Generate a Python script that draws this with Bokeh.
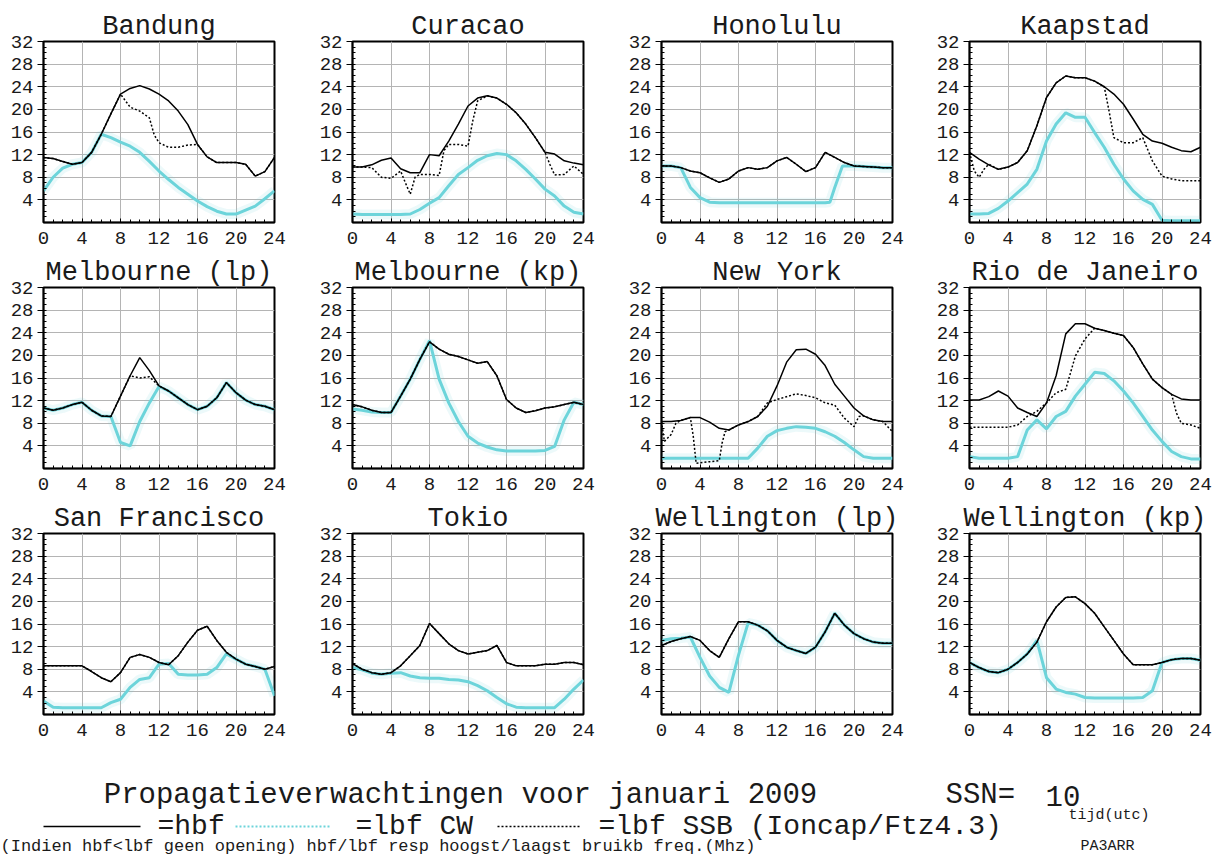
from bokeh.plotting import figure
from bokeh.layouts import row, column
from bokeh.models import Range1d, FixedTicker
from bokeh.embed import file_html
from bokeh.resources import INLINE
from bokeh.core.properties import value

HOURS = list(range(25))

# ---------------- data (MHz per UTC hour) ----------------
BANDUNG_HBF = [11.5, 11.3, 10.8, 10.3, 10.6, 12.4, 15.6, 19.2, 22.7, 23.7, 24.2, 23.6, 22.7, 21.5, 19.7, 17.3, 13.8, 11.6, 10.6, 10.6, 10.6, 10.3, 8.2, 9.0, 11.5]
BANDUNG_CW = [5.6, 8.0, 9.6, 10.3, 10.6, 12.4, 15.6, 15.0, 14.2, 13.5, 12.4, 10.8, 9.1, 7.6, 6.2, 5.0, 3.8, 2.8, 2.0, 1.5, 1.5, 2.2, 2.9, 4.2, 5.6]
BANDUNG_SSB_X = [0, 1, 2, 3, 4, 5, 6, 7, 8, 9, 10, 11, 11.5, 12, 13, 14, 15, 16, 17, 18, 19, 20, 21, 22, 23, 24]
BANDUNG_SSB = [11.5, 11.3, 10.8, 10.3, 10.6, 12.4, 15.6, 19.2, 22.7, 20.4, 19.7, 18.5, 15.5, 14.1, 13.3, 13.3, 13.7, 13.8, 11.6, 10.6, 10.6, 10.6, 10.3, 8.2, 9.0, 11.5]

CURACAO_HBF = [9.8, 9.8, 10.2, 11.0, 11.4, 9.5, 8.8, 8.8, 12.0, 11.8, 14.4, 17.4, 20.6, 22.0, 22.4, 22.0, 20.9, 19.4, 17.4, 15.0, 12.4, 12.1, 10.9, 10.5, 10.2]
CURACAO_CW = [1.5, 1.4, 1.4, 1.4, 1.4, 1.4, 1.5, 2.3, 3.4, 4.4, 6.5, 8.5, 9.7, 11.0, 11.8, 12.2, 12.0, 10.9, 9.4, 7.7, 5.9, 4.7, 2.9, 1.8, 1.5]
CURACAO_SSB_X = [0, 1, 2, 3, 4, 5, 5.5, 6, 6.5, 7, 8, 9, 9.5, 10, 11, 12, 12.5, 13, 14, 15, 16, 17, 18, 19, 20, 20.5, 21, 22, 23, 24]
CURACAO_SSB = [9.8, 9.8, 9.7, 8.0, 7.8, 9.1, 7.0, 5.0, 8.0, 8.5, 8.5, 8.3, 12.7, 13.8, 13.8, 13.5, 18.0, 21.5, 22.4, 22.0, 20.9, 19.4, 17.4, 15.0, 12.4, 10.3, 8.4, 8.5, 10.0, 8.5]

HONOLULU_HBF = [10.0, 10.0, 9.7, 9.1, 8.8, 7.9, 7.1, 7.7, 9.1, 9.7, 9.4, 9.7, 10.9, 11.5, 10.3, 9.0, 9.7, 12.4, 11.5, 10.6, 10.0, 9.9, 9.8, 9.7, 9.7]
HONOLULU_CW_X = [0, 1, 2, 3, 4, 5, 6, 7, 8, 9, 10, 11, 12, 13, 14, 15, 16, 17, 17.5, 18, 18.8, 20, 21, 22, 23, 24]
HONOLULU_CW = [10.0, 10.0, 9.7, 6.2, 4.4, 3.6, 3.5, 3.5, 3.5, 3.5, 3.5, 3.5, 3.5, 3.5, 3.5, 3.5, 3.5, 3.5, 3.6, 6.2, 10.0, 10.0, 9.9, 9.8, 9.7, 9.7]

KAAPSTAD_HBF = [12.4, 11.2, 10.2, 9.4, 9.8, 10.6, 12.7, 17.1, 22.1, 24.7, 25.9, 25.6, 25.6, 25.0, 24.0, 22.7, 20.9, 18.3, 15.6, 14.4, 14.0, 13.3, 12.7, 12.5, 13.3]
KAAPSTAD_CW = [1.5, 1.5, 1.6, 2.5, 3.8, 5.3, 6.8, 9.4, 14.4, 17.4, 19.4, 18.6, 18.6, 15.9, 13.3, 10.3, 7.7, 5.6, 4.1, 3.2, 0.4, 0.3, 0.3, 0.3, 0.3]
KAAPSTAD_SSB_X = [0, 0.5, 1, 1.5, 2, 3, 4, 5, 6, 7, 8, 9, 10, 11, 12, 13, 14, 14.5, 15, 16, 17, 18, 19, 20, 21, 22, 23, 24]
KAAPSTAD_SSB = [12.4, 9.1, 8.0, 9.4, 10.3, 9.4, 9.8, 10.6, 12.7, 17.1, 22.1, 24.7, 25.9, 25.6, 25.6, 25.0, 24.0, 19.7, 15.0, 14.1, 14.1, 15.0, 10.9, 8.2, 7.7, 7.4, 7.4, 7.4]

MELB_LP_HBF = [10.7, 10.3, 10.7, 11.3, 11.7, 10.3, 9.3, 9.2, 12.8, 16.4, 19.6, 17.3, 14.6, 13.7, 12.5, 11.3, 10.4, 11.0, 12.5, 15.2, 13.4, 12.1, 11.3, 11.0, 10.4]
MELB_LP_CW = [10.7, 10.3, 10.7, 11.3, 11.7, 10.3, 9.3, 9.2, 4.6, 4.0, 8.3, 11.6, 14.5, 13.7, 12.5, 11.3, 10.4, 11.0, 12.5, 15.2, 13.4, 12.1, 11.3, 11.0, 10.4]
MELB_LP_SSB = [10.7, 10.3, 10.7, 11.3, 11.7, 10.3, 9.3, 9.2, 12.8, 16.4, 16.0, 16.2, 14.6, 13.7, 12.5, 11.3, 10.4, 11.0, 12.5, 15.2, 13.4, 12.1, 11.3, 11.0, 10.4]

MELB_KP_HBF = [11.3, 10.9, 10.3, 9.9, 9.9, 12.8, 15.8, 19.3, 22.4, 21.1, 20.2, 19.8, 19.2, 18.6, 18.9, 16.4, 12.2, 10.7, 9.9, 10.2, 10.7, 10.9, 11.3, 11.7, 11.3]
MELB_KP_CW = [10.5, 10.3, 10.0, 9.9, 9.9, 12.8, 15.8, 19.3, 22.6, 15.8, 11.6, 8.3, 5.7, 4.5, 3.8, 3.3, 3.1, 3.1, 3.1, 3.1, 3.2, 3.9, 8.6, 11.7, 11.3]

NEWYORK_HBF = [8.3, 8.3, 8.5, 9.0, 9.0, 8.2, 7.1, 6.8, 7.7, 8.3, 9.2, 11.0, 14.6, 18.8, 21.0, 21.1, 20.2, 18.2, 14.9, 12.8, 10.7, 9.3, 8.6, 8.3, 8.3]
NEWYORK_CW = [1.8, 1.8, 1.8, 1.8, 1.8, 1.8, 1.8, 1.8, 1.8, 1.8, 3.6, 5.7, 6.7, 7.1, 7.4, 7.3, 7.1, 6.5, 5.7, 4.6, 3.3, 2.1, 1.8, 1.8, 1.8]
NEWYORK_SSB_X = [0, 0.3, 1, 1.5, 2, 3, 3.3, 3.6, 4, 5, 6, 6.3, 6.6, 7, 8, 9, 10, 11, 12, 13, 14, 15, 16, 17, 18, 19, 20, 20.5, 21, 22, 23, 24]
NEWYORK_SSB = [8.3, 4.8, 6.0, 8.0, 8.5, 9.0, 5.7, 0.9, 1.0, 1.2, 1.4, 4.5, 6.5, 6.8, 7.7, 8.3, 9.2, 11.6, 12.2, 12.7, 13.2, 12.9, 12.5, 11.6, 11.2, 8.9, 7.4, 9.2, 9.3, 8.6, 8.3, 6.5]

RIO_HBF = [12.1, 12.1, 12.7, 13.7, 12.8, 10.7, 9.9, 9.2, 11.6, 16.4, 23.8, 25.6, 25.6, 24.8, 24.4, 23.9, 23.5, 21.4, 18.5, 15.8, 14.3, 13.1, 12.3, 12.1, 12.1]
RIO_CW = [2.1, 1.8, 1.8, 1.8, 1.8, 2.1, 6.8, 8.6, 7.0, 9.2, 10.1, 12.8, 14.9, 17.0, 16.8, 15.5, 13.7, 11.6, 9.2, 6.8, 4.8, 3.0, 2.1, 1.7, 1.7]
RIO_SSB_X = [0, 1, 2, 3, 4, 5, 6, 7, 8, 9, 10, 11, 12, 13, 14, 15, 16, 17, 18, 19, 20, 21, 21.5, 22, 23, 24]
RIO_SSB = [7.3, 7.3, 7.3, 7.3, 7.3, 7.7, 9.2, 10.1, 11.6, 13.4, 14.0, 19.9, 22.9, 24.8, 24.4, 23.9, 23.5, 21.4, 18.5, 15.8, 14.3, 13.1, 9.8, 8.0, 7.7, 7.1]

SANFRAN_HBF = [8.6, 8.6, 8.6, 8.6, 8.6, 7.6, 6.5, 5.8, 7.4, 10.1, 10.6, 10.1, 9.2, 8.8, 10.4, 12.8, 14.9, 15.6, 13.1, 11.0, 9.8, 8.9, 8.5, 8.0, 8.5]
SANFRAN_CW = [2.4, 1.3, 1.2, 1.2, 1.2, 1.2, 1.2, 2.1, 2.7, 4.8, 6.2, 6.5, 8.9, 9.0, 7.1, 7.0, 7.0, 7.1, 8.3, 10.7, 9.8, 8.9, 8.5, 8.0, 3.3]

TOKIO_HBF = [9.0, 8.0, 7.4, 7.1, 7.4, 8.6, 10.4, 12.2, 16.1, 14.3, 12.5, 11.3, 10.7, 11.0, 11.3, 12.2, 9.2, 8.6, 8.6, 8.6, 8.9, 8.9, 9.2, 9.2, 8.8]
TOKIO_CW = [8.3, 7.9, 7.3, 7.1, 7.3, 7.4, 6.8, 6.5, 6.4, 6.4, 6.2, 6.1, 5.8, 5.1, 4.2, 3.0, 1.9, 1.3, 1.2, 1.2, 1.2, 1.2, 2.7, 4.5, 6.1]

WELL_LP_HBF = [12.2, 12.9, 13.4, 13.8, 13.1, 11.3, 10.1, 13.4, 16.4, 16.4, 15.8, 14.8, 13.1, 11.9, 11.3, 10.8, 11.9, 14.6, 17.9, 15.8, 14.3, 13.4, 12.8, 12.6, 12.6]
WELL_LP_CW = [13.1, 13.4, 13.5, 13.7, 10.1, 6.8, 4.8, 3.9, 10.5, 16.2, 15.8, 14.8, 13.1, 11.9, 11.3, 10.8, 11.9, 14.6, 17.9, 15.8, 14.3, 13.4, 12.8, 12.6, 12.6]

WELL_KP_HBF = [9.2, 8.3, 7.6, 7.4, 8.0, 9.2, 10.7, 12.8, 16.4, 19.0, 20.7, 20.8, 19.6, 17.9, 15.5, 13.1, 10.7, 8.8, 8.8, 8.8, 9.2, 9.7, 9.9, 9.9, 9.6]
WELL_KP_CW = [9.2, 8.3, 7.6, 7.4, 8.0, 9.2, 10.7, 13.1, 6.5, 4.5, 3.9, 3.6, 3.0, 2.9, 2.9, 2.9, 2.9, 2.9, 3.0, 4.2, 9.2, 9.7, 9.9, 9.9, 9.6]

X_TICKS = [0, 4, 8, 12, 16, 20, 24]
Y_TICKS = [4, 8, 12, 16, 20, 24, 28, 32]

CAPTION = "Propagatieverwachtingen voor januari 2009"
SSN_LABEL = "SSN="
SSN_VALUE = "10"
LEGEND_TEXTS = ["=hbf", "=lbf CW", "=lbf SSB (Ioncap/Ftz4.3)"]
NOTE = "(Indien hbf<lbf geen opening) hbf/lbf resp hoogst/laagst bruikb freq.(Mhz)"

# ---------------- style ----------------
MONO = "Liberation Mono"
CYAN = "#6cd4da"
GRID = "#b4b4b4"
INK = "#1a1a1a"


def panel(title, hbf, cw, ssb=None, cw_x=None, ssb_x=None, width=309, right=35, top=33, height=246):
    p = figure(width=width, height=height, x_range=Range1d(0, 24), y_range=Range1d(0, 32),
               output_backend="svg", toolbar_location=None,
               min_border_left=43, min_border_right=right, min_border_top=top, min_border_bottom=32,
               title=title, background_fill_color="white", border_fill_color="white")
    p.title.text_font = MONO
    p.title.text_font_size = "27px"
    p.title.text_font_style = "normal"
    p.title.text_color = INK
    p.title.align = "center"
    p.title.standoff = 0
    p.title.offset = 0

    p.xaxis.ticker = FixedTicker(ticks=X_TICKS, minor_ticks=HOURS)
    p.yaxis.ticker = FixedTicker(ticks=Y_TICKS, minor_ticks=list(range(1, 32)))
    p.xgrid.ticker = FixedTicker(ticks=X_TICKS)
    p.ygrid.ticker = FixedTicker(ticks=Y_TICKS)
    p.grid.grid_line_color = GRID
    p.grid.grid_line_width = 1

    for ax in (p.xaxis, p.yaxis):
        ax.major_label_text_font = MONO
        ax.major_label_text_font_size = "19px"
        ax.major_label_text_color = INK
        ax.axis_line_color = "black"
        ax.axis_line_width = 1.5
        ax.major_tick_line_color = "black"
        ax.minor_tick_line_color = "black"
        ax.minor_tick_in = 3
        ax.minor_tick_out = 0
    p.xaxis.major_tick_in = 4
    p.xaxis.major_tick_out = 0
    p.xaxis.major_label_standoff = 9
    p.yaxis.major_tick_in = 0
    p.yaxis.major_tick_out = 6
    p.yaxis.major_label_standoff = 4
    p.outline_line_color = "black"
    p.outline_line_width = 2
    p.outline_line_alpha = 1

    cx = cw_x if cw_x is not None else HOURS
    p.line(cx, cw, line_color=CYAN, line_width=10, line_alpha=0.13)
    p.line(cx, cw, line_color=CYAN, line_width=3)
    p.line(HOURS, hbf, line_color="black", line_width=1.5)
    if ssb is None:
        ssb = hbf
    sx = ssb_x if ssb_x is not None else HOURS
    p.line(sx, ssb, line_color="black", line_width=1.5, line_dash="2 2")
    return p


R1 = dict(top=41, height=254)
row1 = row(
    panel("Bandung", BANDUNG_HBF, BANDUNG_CW, BANDUNG_SSB, ssb_x=BANDUNG_SSB_X, **R1),
    panel("Curacao", CURACAO_HBF, CURACAO_CW, CURACAO_SSB, ssb_x=CURACAO_SSB_X, **R1),
    panel("Honolulu", HONOLULU_HBF, HONOLULU_CW, cw_x=HONOLULU_CW_X, width=308, right=34, **R1),
    panel("Kaapstad", KAAPSTAD_HBF, KAAPSTAD_CW, KAAPSTAD_SSB, ssb_x=KAAPSTAD_SSB_X, width=286, right=12, **R1),
)
row2 = row(
    panel("Melbourne (lp)", MELB_LP_HBF, MELB_LP_CW, MELB_LP_SSB),
    panel("Melbourne (kp)", MELB_KP_HBF, MELB_KP_CW),
    panel("New York", NEWYORK_HBF, NEWYORK_CW, NEWYORK_SSB, ssb_x=NEWYORK_SSB_X, width=308, right=34),
    panel("Rio de Janeiro", RIO_HBF, RIO_CW, RIO_SSB, ssb_x=RIO_SSB_X, width=286, right=12),
)
row3 = row(
    panel("San Francisco", SANFRAN_HBF, SANFRAN_CW),
    panel("Tokio", TOKIO_HBF, TOKIO_CW),
    panel("Wellington (lp)", WELL_LP_HBF, WELL_LP_CW, width=308, right=34),
    panel("Wellington (kp)", WELL_KP_HBF, WELL_KP_CW, width=286, right=12),
)

# ---------------- footer: caption and legend ----------------
FW, FH = 1211, 109
f = figure(width=FW, height=FH, x_range=Range1d(0, FW), y_range=Range1d(FH, 0),
           output_backend="svg", toolbar_location=None, min_border=0,
           x_axis_location=None, y_axis_location=None,
           background_fill_color="white", border_fill_color="white")
f.grid.visible = False
f.outline_line_color = None

f.text(x=[460], y=[49], text=[CAPTION], text_font=value(MONO), text_font_size="29px",
       text_align="center", text_baseline="middle", text_color=INK)
f.text(x=[945, 1045], y=[49, 49], text=[SSN_LABEL, SSN_VALUE], text_font=value(MONO),
       text_font_size="29px", text_align="left", text_baseline="middle", text_color=INK)

f.line([43, 140], [80, 80], line_color="black", line_width=1.5)
f.line([235, 330], [80, 80], line_color=CYAN, line_width=2, line_dash="2 2")
f.line([497, 580], [80, 80], line_color="black", line_width=1.5, line_dash="2 2")
f.text(x=[157, 355, 598], y=[80, 80, 80], text=LEGEND_TEXTS,
       text_font=value(MONO), text_font_size="28px", text_align="left",
       text_baseline="middle", text_color=INK)
f.text(x=[1068], y=[69], text=["tijd(utc)"], text_font=value(MONO), text_font_size="15px",
       text_align="left", text_baseline="middle", text_color=INK)
f.text(x=[0], y=[100], text=[NOTE], text_font=value(MONO), text_font_size="17px",
       text_align="left", text_baseline="middle", text_color=INK)
f.text(x=[1080], y=[100], text=["PA3ARR"], text_font=value(MONO), text_font_size="15px",
       text_align="left", text_baseline="middle", text_color=INK)

layout = column(row1, row2, row3, f)
open("out.html", "w").write(file_html(layout, INLINE, "Propagatieverwachtingen"))
